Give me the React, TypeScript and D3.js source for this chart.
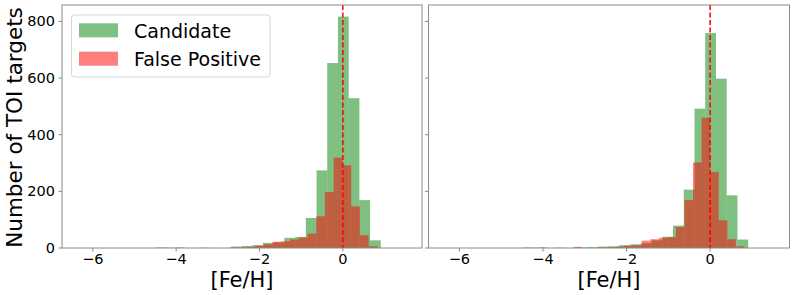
import * as d3 from 'd3';

// candidate histogram: bin left edges (shared by both panels) and counts
const CAND_EDGES = [-4.486, -4.229, -3.972, -3.715, -3.458, -3.201, -2.944, -2.687, -2.430, -2.173, -1.916,
  -1.659, -1.402, -1.145, -0.888, -0.631, -0.374, -0.117, 0.140, 0.397, 0.654];
const CAND_WIDTH = 0.257;
const CAND_LEFT = [2, 1, 0, 0, 1, 0, 0, 5, 7, 10, 18, 20, 36, 39, 106, 274, 653, 817, 529, 169, 27];
const CAND_RIGHT = [2, 1, 0, 1, 0, 2, 3, 5, 6, 10, 13, 17, 27, 40, 79, 206, 492, 759, 598, 186, 30];

// false positive histograms
const FP_LEFT_EDGES = [-3.996, -3.786, -3.576, -3.366, -3.157, -2.947, -2.737, -2.527, -2.317, -2.107, -1.898,
  -1.688, -1.478, -1.268, -1.058, -0.848, -0.639, -0.429, -0.219, -0.009, 0.201, 0.410, 0.620];
const FP_LEFT_WIDTH = 0.2098;
const FP_LEFT = [2, 0, 0, 0, 0, 0, 1, 2, 4, 8, 13, 22, 24, 30, 37, 51, 112, 198, 319, 292, 147, 45, 6];

const FP_RIGHT_EDGES = [-4.099, -3.894, -3.689, -3.484, -3.279, -3.074, -2.869, -2.664, -2.459, -2.254, -2.049,
  -1.844, -1.639, -1.434, -1.229, -1.024, -0.819, -0.614, -0.409, -0.204, 0.001, 0.206, 0.411, 0.616];
const FP_RIGHT_WIDTH = 0.205;
const FP_RIGHT = [2, 0, 0, 0, 4, 0, 0, 2, 3, 5, 8, 10, 26, 31, 36, 38, 74, 169, 302, 460, 268, 98, 31, 6];

const X_TICKS = [-6, -4, -2, 0];
const Y_TICKS = [0, 200, 400, 600, 800];
const LEGEND = ['Candidate', 'False Positive'];

const FONT = 'DejaVu Sans, sans-serif';
const TOP = 5;
const BOTTOM = 248;
const SPINE = '#8a8a8a';

const y = d3.scaleLinear().domain([0, 858]).range([BOTTOM, TOP]);

function Bars({ x, edges, width, counts, color }) {
  return (
    <g fill={color} fillOpacity={0.5}>
      {counts.map((c, i) => c > 0 && (
        <rect key={i} x={x(edges[i])} width={x(edges[i] + width) - x(edges[i])}
          y={y(c)} height={y(0) - y(c)} />
      ))}
    </g>
  );
}

function Panel({ x0, x1, cand, fpEdges, fpWidth, fp, showY }) {
  const x = d3.scaleLinear().domain([-6.74, 1.9]).range([x0, x1]);
  return (
    <g>
      <Bars x={x} edges={CAND_EDGES} width={CAND_WIDTH} counts={cand} color="green" />
      <Bars x={x} edges={fpEdges} width={fpWidth} counts={fp} color="red" />
      <line x1={x(0)} x2={x(0)} y1={TOP} y2={BOTTOM} stroke="red" strokeWidth={1.5} strokeDasharray="5,2.5" />
      <rect x={x0} y={TOP} width={x1 - x0} height={BOTTOM - TOP} fill="none" stroke={SPINE} strokeWidth={1} />
      {X_TICKS.map(t => (
        <g key={t}>
          <line x1={x(t)} x2={x(t)} y1={BOTTOM} y2={BOTTOM + 3.5} stroke={SPINE} />
          <text x={x(t)} y={264} textAnchor="middle" fontSize={14.5} fontFamily={FONT}>
            {t < 0 ? '\u2212' + Math.abs(t) : t}
          </text>
        </g>
      ))}
      {Y_TICKS.map(t => (
        <g key={t}>
          <line x1={x0 - 3.5} x2={x0} y1={y(t)} y2={y(t)} stroke={SPINE} />
          {showY && (
            <text x={x0 - 7} y={y(t) + 5} textAnchor="end" fontSize={14.5} fontFamily={FONT}>{t}</text>
          )}
        </g>
      ))}
      <text x={(x0 + x1) / 2} y={287} textAnchor="middle" fontSize={21} fontFamily={FONT}>[Fe/H]</text>
    </g>
  );
}

export default function App() {
  return (
    <svg width={793} height={295} style={{ position: 'absolute', left: 0, top: 0, background: '#fff' }}>
      <Panel x0={62} x1={422} cand={CAND_LEFT} fpEdges={FP_LEFT_EDGES} fpWidth={FP_LEFT_WIDTH} fp={FP_LEFT} showY />
      <Panel x0={428.5} x1={789.5} cand={CAND_RIGHT} fpEdges={FP_RIGHT_EDGES} fpWidth={FP_RIGHT_WIDTH} fp={FP_RIGHT} showY={false} />
      <text transform={`translate(22,${(TOP + BOTTOM) / 2 + 1}) rotate(-90)`} textAnchor="middle"
        fontSize={21.5} fontFamily={FONT}>Number of TOI targets</text>
      {/* legend */}
      <rect x={71.5} y={15} width={198.5} height={62} rx={3} fill="#fff" fillOpacity={0.8} stroke="#d5d5d5" />
      {LEGEND.map((name, i) => (
        <g key={name}>
          <rect x={79} y={23.3 + i * 28.4} width={39} height={14} fill={i === 0 ? 'green' : 'red'} fillOpacity={0.5} />
          <text x={134} y={37.5 + i * 28.4} fontSize={19} fontFamily={FONT}>{name}</text>
        </g>
      ))}
    </svg>
  );
}
